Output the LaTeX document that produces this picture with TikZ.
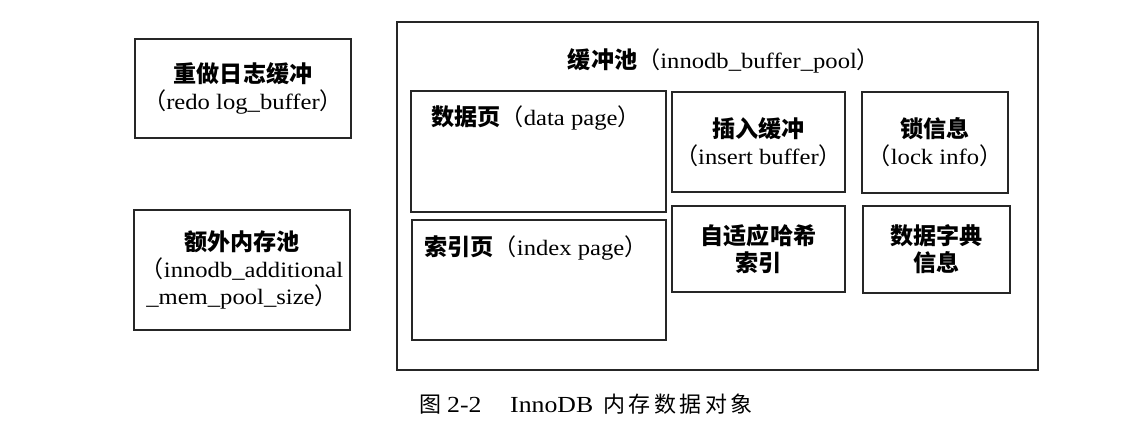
\documentclass[tikz,border=0pt]{standalone}
\usepackage{fontspec}
\setmainfont{Liberation Serif}[FakeStretch=1.12]
\newfontfamily\cjk{Noto Sans CJK SC}[Scale=1.05]
\newfontfamily\cjkcap{Noto Sans CJK SC}
\newcommand{\zlp}{{\cjk （}}
\newcommand{\zrp}{{\cjk ）}}
\tikzset{
  box/.style={draw=black!85, line width=1.6pt, inner sep=0pt, align=center,
    font=\fontsize{22}{27}\selectfont},
  lbl/.style={inner sep=0pt, align=center, font=\fontsize{22}{27}\selectfont},
  captext/.style={inner sep=0pt, anchor=base west, font=\fontsize{23}{27}\selectfont},
}
\begin{document}
\begin{tikzpicture}[x=1pt,y=-1pt]
\useasboundingbox[fill=white] (0,0) rectangle (1130,440);
% left boxes
\node[box, minimum width=216pt, minimum height=99pt] (redo) at (243,88.5)
  {{\cjk\bfseries 重做日志缓冲}\\\zlp redo log\_buffer\zrp};
\node[box, minimum width=216pt, minimum height=120pt] (addl) at (242,270)
  {{\cjk\bfseries 额外内存池}\\\zlp innodb\_additional\\\_mem\_pool\_size\zrp};
% outer buffer pool
\node[box, minimum width=641pt, minimum height=348pt] (pool) at (717.5,196) {};
\node[lbl] (pooltitle) at (724,61) {{\cjk\bfseries 缓冲池}\zlp innodb\_buffer\_pool\zrp};
% inner boxes
\node[box, minimum width=255pt, minimum height=121pt] (data) at (538.5,151.5) {};
\node[lbl] (datat) at (536,118) {{\cjk\bfseries 数据页}\zlp data page\zrp};
\node[box, minimum width=254pt, minimum height=120pt] (index) at (539,280) {};
\node[lbl] (indext) at (536,248) {{\cjk\bfseries 索引页}\zlp index page\zrp};
\node[box, minimum width=173pt, minimum height=100pt] (insert) at (758.5,142)
  {{\cjk\bfseries 插入缓冲}\\\zlp insert buffer\zrp};
\node[box, minimum width=146pt, minimum height=101pt] (lock) at (935,142.5)
  {{\cjk\bfseries 锁信息}\\\zlp lock info\zrp};
\node[box, minimum width=173pt, minimum height=86pt] (hash) at (758.5,249)
  {\cjk\bfseries 自适应哈希\\\cjk\bfseries 索引};
\node[box, minimum width=147pt, minimum height=87pt] (dict) at (936.5,249.5)
  {\cjk\bfseries 数据字典\\\cjk\bfseries 信息};
% caption
\node[captext] (cap1) at (419,412) {{\cjkcap\fontsize{22}{27}\selectfont 图}};
\node[captext] (cap2) at (447,412) {2-2};
\node[captext] (cap3) at (510,412) {InnoDB};
\node[captext] (cap4) at (603,412) {\cjkcap\fontsize{22}{27}\selectfont
  内\kern3.5pt 存\kern3.5pt 数\kern3.5pt 据\kern3.5pt 对\kern3.5pt 象};
\end{tikzpicture}
\end{document}
